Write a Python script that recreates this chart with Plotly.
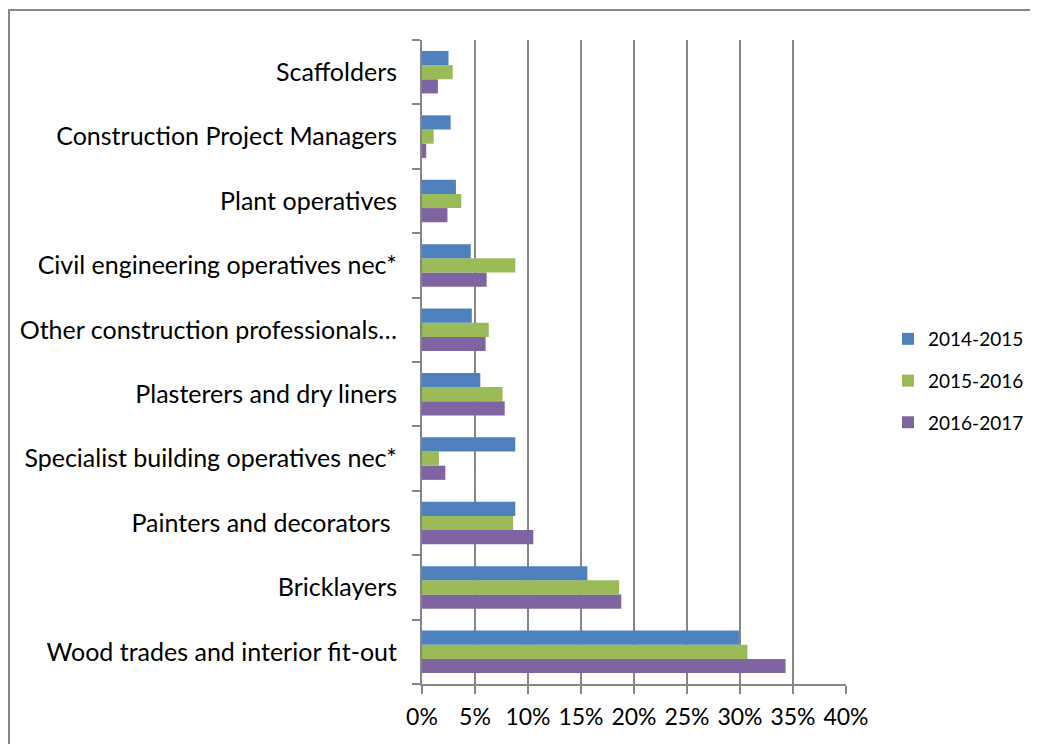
import plotly.graph_objects as go

categories = ["Wood trades and interior fit-out", "Bricklayers", "Painters and decorators ",
              "Specialist building operatives nec*", "Plasterers and dry liners",
              "Other construction professionals…", "Civil engineering operatives nec*",
              "Plant operatives", "Construction Project Managers", "Scaffolders"]

s2014 = [0.299, 0.156, 0.088, 0.088, 0.055, 0.047, 0.046, 0.032, 0.027, 0.025]
s2015 = [0.307, 0.186, 0.086, 0.016, 0.076, 0.063, 0.088, 0.037, 0.011, 0.029]
s2016 = [0.343, 0.188, 0.105, 0.022, 0.078, 0.060, 0.061, 0.024, 0.004, 0.015]

series_names = ["2014-2015", "2015-2016", "2016-2017"]
colors = ["#4f81bd", "#9bbb59", "#8064a2"]

fig = go.Figure()
# grouped horizontal bars go bottom-up, so purple first; legendrank puts blue on top of the legend
series = list(zip(series_names, [s2014, s2015, s2016], colors))
for rank, (name, vals, col) in reversed(list(enumerate(series))):
    fig.add_trace(go.Bar(y=categories, x=vals, name=name, orientation="h", legendgroup=name,
                         legendrank=rank + 1, marker=dict(color=col, line=dict(width=0))))

W, H = 1030, 736

fig.update_layout(
    width=W, height=H,
    barmode="group", bargap=0.34, bargroupgap=0,
    plot_bgcolor="white", paper_bgcolor="white",
    font=dict(family="Lato", size=23, color="black"),
    margin=dict(l=414, r=192, t=32, b=60, autoexpand=False),
    legend=dict(traceorder="grouped", xref="container", yref="container",
                x=880 / W, y=1 - 373 / H, xanchor="left", yanchor="middle",
                font=dict(size=19), tracegroupgap=14),
    showlegend=True,
)

fig.update_xaxes(range=[0, 0.40], dtick=0.05, tickformat=".0%", showgrid=True,
                 gridcolor="#868686", gridwidth=2, showline=True, linecolor="#868686",
                 linewidth=2, ticks="outside", ticklen=8, tickcolor="#868686", tickwidth=2,
                 zeroline=False, ticklabelstandoff=3, automargin=False)
fig.update_yaxes(showgrid=False, showline=True, linecolor="#868686", linewidth=2,
                 ticks="outside", tickson="boundaries", ticklen=8, tickcolor="#868686",
                 tickwidth=2, ticklabelstandoff=18, tickfont=dict(size=25), automargin=False)

fig.add_shape(type="rect", xref="paper", yref="paper",
              x0=-0.974, x1=1.6, y0=-0.2, y1=1.0466,
              line=dict(color="#868686", width=2), fillcolor="rgba(0,0,0,0)", layer="below")

fig.write_html("out.html")
